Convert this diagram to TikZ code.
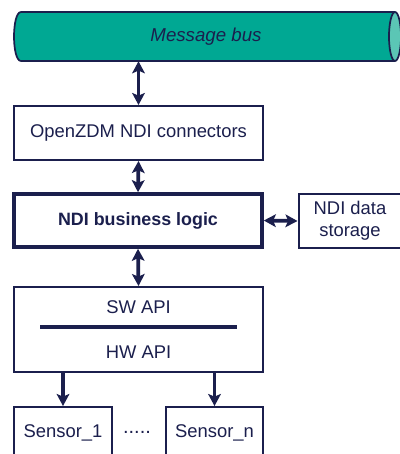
\documentclass[tikz,border=0pt]{standalone}
\usepackage{fontspec}
\setmainfont{Liberation Sans}
\usetikzlibrary{arrows.meta, positioning, calc}
\definecolor{inknavy}{HTML}{1B1F4D}
\definecolor{busteal}{HTML}{00A893}
\definecolor{busend}{HTML}{5BC6B5}
\tikzset{
  box/.style={draw=inknavy, line width=1.5pt, fill=white, text=inknavy,
    font=\fontsize{13.8}{16.5}\selectfont, align=center, inner sep=0pt},
  thickbox/.style={box, line width=2.7pt, font=\fontsize{13.4}{16}\selectfont\bfseries},
  label/.style={text=inknavy, font=\fontsize{13.8}{16}\selectfont},
  biarrow/.style={draw=inknavy, line width=2.8pt,
    {Stealth[length=9pt,width=9.5pt,inset=2pt]}-{Stealth[length=9pt,width=9.5pt,inset=2pt]}},
  downarrow/.style={draw=inknavy, line width=2.8pt,
    -{Stealth[length=9pt,width=9.5pt,inset=2pt]}},
}

\begin{document}
\begin{tikzpicture}[x=0.75pt, y=-0.75pt]
  \useasboundingbox (0,0) rectangle (400,454);
  % bus on top
  \draw[inknavy, line width=1.3pt, fill=busteal] (395,12) -- (21,12)
    .. controls (11.7,12) and (11.7,61) .. (21,61) -- (395,61);
  \draw[inknavy, line width=1.3pt, fill=busend] (395,36.5) ellipse [x radius=6, y radius=24.5];
  \node[minimum width=280pt, minimum height=36.75pt, inner sep=0pt,
        text=inknavy, font=\fontsize{14}{16}\selectfont\itshape]
    (bus) at (206,36.5) {Message bus};
  % stack of boxes
  \node[box, minimum width=186.75pt, minimum height=40.5pt] (conn) at (138.5,133)
    {OpenZDM NDI connectors};
  \node[thickbox, minimum width=186pt, minimum height=39.75pt] (logic) at (138,220.5)
    {NDI business logic};
  \node[box, minimum width=77.25pt, minimum height=40.5pt] (store) at (350,221)
    {NDI data\\storage};
  \node[box, minimum width=186.75pt, minimum height=63.75pt] (api) at (138.5,329.5) {};
  \node[label] (swapi) at (138.5,307) {SW API};
  \node[label] (hwapi) at (138.5,352) {HW API};
  \draw[inknavy, line width=2.4pt] (40,327) -- (237,327);
  % sensors
  \node[box, minimum width=73.5pt, minimum height=39pt] (sensA) at (63,433) {Sensor\_1};
  \node[box, minimum width=72.75pt, minimum height=39pt] (sensN) at (214.5,433) {Sensor\_n};
  \node[label, font=\fontsize{15}{16}\selectfont] (dots) at (137,432) {.....};
  % connectors
  \draw[biarrow] (conn.north |- bus.south) -- (conn.north);
  \draw[biarrow] (conn.south) -- (logic.north);
  \draw[biarrow] (logic.east) -- (store.west);
  \draw[biarrow] (logic.south) -- (api.north);
  \draw[downarrow] (sensA.north |- api.south) -- (sensA.north);
  \draw[downarrow] (sensN.north |- api.south) -- (sensN.north);
\end{tikzpicture}
\end{document}
